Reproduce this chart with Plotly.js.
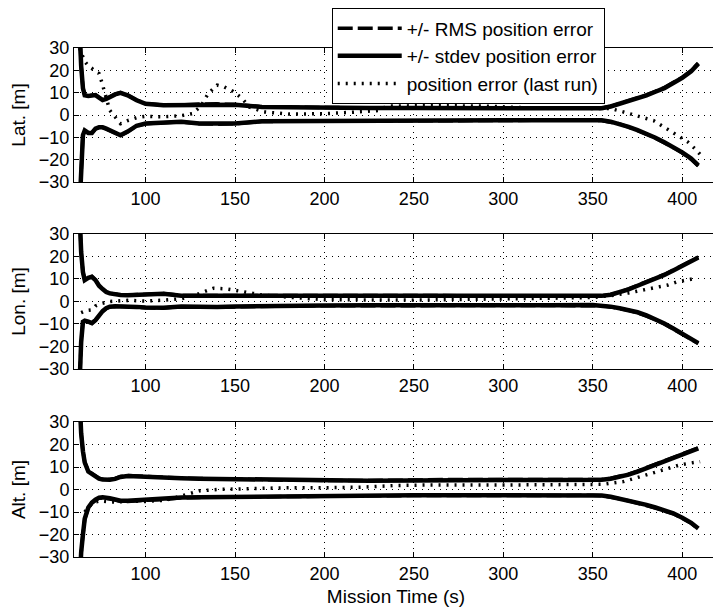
<!DOCTYPE html>
<html>
<head>
<meta charset="utf-8">
<script src="https://cdn.plot.ly/plotly-3.0.1.min.js"></script>
<style>
html,body{margin:0;padding:0;overflow:hidden;background:#fff;width:713px;height:607px;}
#chart{width:720px;height:607px;}
</style>
</head>
<body>
<div id="chart"></div>
<script>
// shared time grid for stdev / RMS envelopes (s)
const T = [62,63,64,65,66,68,70,72,74,76,78,80,83,86,90,95,100,110,120,130,140,150,165,180,200,225,250,275,300,325,350,355,360,365,370,375,380,385,390,395,400,405,409];

// Lat. [m]
const latStdUp = [60,38,22,12,8.8,8.5,8.6,8.9,7.8,6.7,7.2,8.1,9.2,9.9,8.8,6.6,5.0,4.4,4.4,4.8,4.9,4.6,3.6,3.4,3.2,3.1,3.1,3.1,3.0,2.9,2.9,3.0,3.8,5.0,6.2,7.4,8.8,10.4,12.0,14.3,16.6,19.6,23.0];
const latStdLo = [-60,-40,-22,-9,-6.9,-8.0,-8.0,-6.1,-5.5,-5.5,-6.1,-6.9,-8.2,-9.1,-7.4,-4.8,-3.8,-3.3,-3.0,-3.8,-4.0,-3.8,-2.8,-2.7,-2.6,-2.5,-2.4,-2.4,-2.4,-2.3,-2.2,-2.4,-3.0,-3.9,-5.3,-6.8,-8.3,-10.2,-12.2,-14.3,-16.7,-19.5,-22.5];
const latRmsUp = [60,38,22,12,8.9,8.6,8.7,9.0,7.9,6.8,7.3,8.2,9.3,10.0,8.9,6.7,5.1,4.5,4.5,4.9,5.0,4.7,3.7,3.5,3.3,3.2,3.3,3.3,3.2,3.0,3.0,3.1,3.9,5.1,6.3,7.6,9.0,10.6,12.3,14.5,16.9,19.9,23.2];
const latRmsLo = [-60,-40,-22,-9,-7.0,-8.1,-8.1,-6.2,-5.6,-5.6,-6.2,-7.0,-8.3,-9.2,-7.5,-4.9,-3.9,-3.4,-3.1,-3.9,-4.1,-3.9,-2.9,-2.8,-2.7,-2.6,-2.6,-2.6,-2.5,-2.4,-2.3,-2.5,-3.1,-4.0,-5.4,-6.9,-8.5,-10.4,-12.4,-14.6,-17.0,-19.8,-22.8];
const latErrT = [63,66,68,70,72,74,75.5,76.5,78,80,83,86,90,95,100,110,120,126,131,135,140,144,149,154,158,166,180,200,215,230,235,260,290,313,340,355,360,367,372,378,384,390,397,403,407,411];
const latErr  = [30,24,22,20.9,19.3,18.6,14.8,11.9,7,2.1,-0.9,-3.9,-2.5,-1.2,-0.6,-0.8,-0.3,0.6,4,9.6,13.4,12.6,10.5,7.4,3.6,1.4,0.4,0.6,1.2,2.0,4,4.2,4,3.2,3,3,2.9,1.4,0.3,-1,-2.5,-5.5,-9,-12,-15,-18.5];

// Lon. [m]
const lonStdUp = [60,38,22,13,9.5,10.5,11,9.5,7.0,5.5,4.2,3.6,3.1,2.9,2.8,2.9,3.3,3.4,2.6,2.5,2.6,2.7,2.6,2.5,2.5,2.5,2.6,2.5,2.4,2.4,2.3,2.5,3.0,4.0,5.4,7.0,8.5,10.0,11.8,13.8,15.8,17.8,19.5];
const lonStdLo = [-60,-35,-18,-9,-8.5,-9.0,-9.6,-8.3,-6.0,-4.3,-3.0,-2.3,-2.1,-2.1,-2.2,-2.4,-2.7,-2.8,-2.2,-2.4,-2.4,-2.2,-2.0,-2.0,-1.8,-1.7,-1.8,-1.6,-1.7,-1.7,-1.6,-1.8,-2.3,-3.0,-3.7,-4.8,-6.2,-7.8,-9.8,-12.0,-14.3,-16.5,-18.5];
const lonRmsUp = [60,38,22,13,9.6,10.6,11.1,9.6,7.1,5.6,4.3,3.7,3.2,3.0,2.9,3.0,3.4,3.5,2.7,2.7,2.9,2.9,2.7,2.6,2.6,2.6,2.7,2.6,2.5,2.5,2.4,2.6,3.1,4.1,5.6,7.2,8.7,10.2,12.0,14.0,16.0,18.0,19.7];
const lonRmsLo = [-60,-35,-18,-9,-8.6,-9.1,-9.7,-8.4,-6.1,-4.4,-3.1,-2.4,-2.2,-2.2,-2.3,-2.5,-2.8,-2.9,-2.3,-2.6,-2.6,-2.4,-2.1,-2.1,-1.9,-1.8,-1.9,-1.7,-1.8,-1.8,-1.7,-1.9,-2.4,-3.1,-3.9,-5.0,-6.4,-8.0,-10.0,-12.2,-14.5,-16.7,-18.7];
const lonErrT = [64,67,70,72,75,80,90,100,110,120,130,138,145,150,155,160,165,175,185,200,250,300,330,350,360,370,382,388,392,397,402,407];
const lonErr  = [-5,-4,-3.7,-2,-1,0,0.5,0.2,0.6,1.2,3.5,5.9,5.6,5.1,4.3,3.6,2.9,2.2,1.5,0.8,0.6,1,1.5,1.8,2.6,3.8,5.8,6.5,7.3,8.7,9.4,10.2];

// Alt. [m]
const altStdUp = [60,40,25,17,12,8.0,6.8,5.6,4.8,4.4,4.2,4.3,4.7,5.6,6.0,5.8,5.4,5.2,5.0,4.8,4.7,4.7,4.3,4.0,3.9,3.9,4.0,4.3,4.2,4.2,4.2,4.3,4.8,5.6,6.6,8.0,9.5,11.0,12.2,13.9,15.4,16.9,18.3];
const altStdLo = [-60,-40,-28,-20,-13,-8.0,-5.8,-4.5,-3.6,-3.5,-3.6,-3.9,-4.4,-5.0,-5.0,-4.7,-4.5,-4.2,-3.5,-3.4,-3.3,-3.2,-3.1,-3.0,-2.9,-2.7,-2.6,-2.5,-2.5,-2.5,-2.5,-2.7,-3.2,-4.0,-4.8,-5.8,-6.8,-8.0,-9.3,-10.6,-12.6,-14.8,-17.3];
const altRmsUp = [60,40,25,17,12.2,8.2,7.0,5.8,5.0,4.6,4.4,4.5,4.9,5.8,6.2,6.0,5.6,5.4,5.1,4.9,4.8,4.8,4.4,4.1,4.0,4.0,4.2,4.5,4.4,4.4,4.4,4.5,5.0,5.8,6.8,8.2,9.7,11.2,12.4,14.1,15.6,17.1,18.5];
const altRmsLo = [-60,-40,-28,-20,-13.2,-8.3,-6.1,-4.8,-3.9,-3.8,-3.9,-4.2,-4.7,-5.3,-5.3,-5.0,-4.8,-4.5,-3.7,-3.5,-3.4,-3.3,-3.2,-3.1,-3.0,-2.8,-2.7,-2.6,-2.6,-2.6,-2.6,-2.8,-3.3,-4.1,-5.0,-6.0,-7.0,-8.2,-9.5,-10.8,-12.8,-15.0,-17.5];
const altErrT = [66,70,75,80,85,90,95,100,105,110,115,120,125,130,140,160,180,200,220,240,260,300,350,356,360,367,377,386,393,399,405,410];
const altErr  = [-10,-6,-5,-5.5,-5.5,-5,-5.2,-5.3,-5,-4.8,-4,-2.8,-1.5,-0.6,0,0.5,0.8,0.8,1,1.8,2,2,2,2.3,2.8,3.5,5.8,8,9.8,11,11.8,12.4];

const xTicks = [100,150,200,250,300,350,400];
const yTicks = [-30,-20,-10,0,10,20,30];
const panelTitles = ['Lat. [m]','Lon. [m]','Alt. [m]'];
const legendNames = ['+/- RMS position error','+/- stdev position error','position error (last run)'];

const panels = [
  {rU:latRmsUp,rL:latRmsLo,sU:latStdUp,sL:latStdLo,eT:latErrT,e:latErr},
  {rU:lonRmsUp,rL:lonRmsLo,sU:lonStdUp,sL:lonStdLo,eT:lonErrT,e:lonErr},
  {rU:altRmsUp,rL:altRmsLo,sU:altStdUp,sL:altStdLo,eT:altErrT,e:altErr}
];

const rmsLine = {color:'#000', width:3.5, dash:'15px,5px'};
const stdLine = {color:'#000', width:4.5};
const errLine = {color:'#000', width:3.5, dash:'2px,6px'};

const traces = [];
panels.forEach((p,i)=>{
  const xa = i===0?'x':'x'+(i+1);
  const ya = i===0?'y':'y'+(i+1);
  const first = i===0;
  traces.push({x:T,y:p.rU,xaxis:xa,yaxis:ya,mode:'lines',line:rmsLine,name:legendNames[0],legendgroup:'g1',showlegend:first,hoverinfo:'skip'});
  traces.push({x:T,y:p.rL,xaxis:xa,yaxis:ya,mode:'lines',line:rmsLine,name:legendNames[0],legendgroup:'g1',showlegend:false,hoverinfo:'skip'});
  traces.push({x:T,y:p.sU,xaxis:xa,yaxis:ya,mode:'lines',line:stdLine,name:legendNames[1],legendgroup:'g2',showlegend:first,hoverinfo:'skip'});
  traces.push({x:T,y:p.sL,xaxis:xa,yaxis:ya,mode:'lines',line:stdLine,name:legendNames[1],legendgroup:'g2',showlegend:false,hoverinfo:'skip'});
  traces.push({x:p.eT,y:p.e,xaxis:xa,yaxis:ya,mode:'lines',line:errLine,name:legendNames[2],legendgroup:'g3',showlegend:first,hoverinfo:'skip'});
});

const font = {family:'Liberation Sans, Arial, sans-serif', color:'#000'};
function xax(anchor){
  return {anchor:anchor, range:[60,420], tickvals:xTicks, ticks:'inside', ticklen:5, tickcolor:'#000',
    showline:true, linecolor:'#000', linewidth:1, mirror:'ticks', showgrid:true, gridcolor:'#000',
    griddash:'1px,5px', gridwidth:1, zeroline:false, tickfont:Object.assign({size:18},font), fixedrange:true};
}
function yax(domain, title){
  return {domain:domain, range:[-30,30], tickvals:yTicks, ticks:'inside', ticklen:5, tickcolor:'#000',
    showline:true, linecolor:'#000', linewidth:1, mirror:'ticks', showgrid:true, gridcolor:'#000',
    griddash:'1px,5px', gridwidth:1, zeroline:false, tickfont:Object.assign({size:18},font),
    title:{text:title, font:Object.assign({size:19},font), standoff:8}, fixedrange:true};
}

const x3 = xax('y3');
x3.title = {text:'Mission Time (s)', font:Object.assign({size:19},font), standoff:8};

const layout = {
  width:720, height:607,
  margin:{l:74, r:2, t:48, b:50},
  paper_bgcolor:'#fff', plot_bgcolor:'#fff',
  font:font,
  showlegend:true,
  legend:{x:0.4002, y:1.078, xanchor:'left', yanchor:'top', bgcolor:'#fff', bordercolor:'#000', borderwidth:1,
    font:Object.assign({size:19},font), itemwidth:64, tracegroupgap:0, traceorder:'grouped'},
  xaxis:xax('y'), xaxis2:xax('y2'), xaxis3:x3,
  yaxis:yax([0.7367,1], panelTitles[0]),
  yaxis2:yax([0.3694,0.6346], panelTitles[1]),
  yaxis3:yax([0,0.2652], panelTitles[2])
};

Plotly.newPlot('chart', traces, layout, {displayModeBar:false, staticPlot:true});
</script>
</body>
</html>
